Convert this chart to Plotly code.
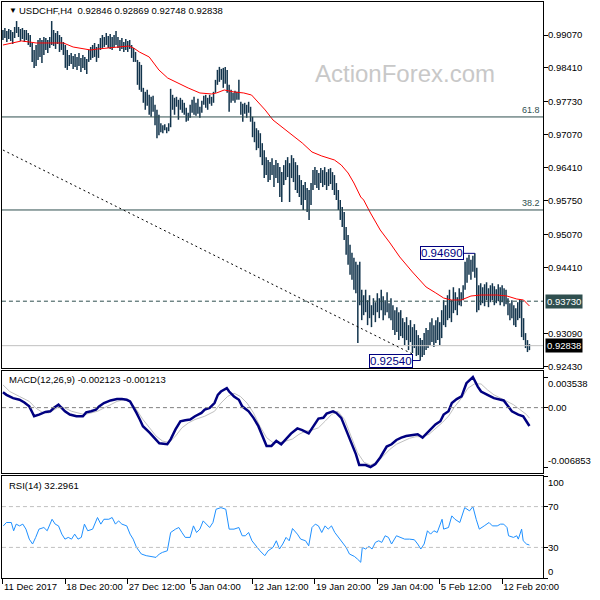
import plotly.graph_objects as go

# ---------------- data ----------------
symbol_title = "USDCHF,H4  0.92846 0.92869 0.92748 0.92838"

highs = [0.9917,0.9921,0.9915,0.9919,0.9917,0.9913,0.9923,0.9935,0.9923,0.9919,
         0.9921,0.9917,0.9917,0.9911,0.9907,0.9891,0.9877,0.9887,0.9897,0.9901,
         0.9897,0.9903,0.9901,0.9897,0.9903,0.9935,0.9917,0.9911,0.9915,0.9907,
         0.9903,0.9893,0.9887,0.9877,0.9867,0.9871,0.9865,0.9869,0.9863,0.9871,
         0.9861,0.9867,0.9863,0.9859,0.9877,0.9883,0.9887,0.9891,0.9883,0.9889,
         0.9901,0.9907,0.9903,0.9911,0.9905,0.9909,0.9903,0.9907,0.9915,0.9903,
         0.9897,0.9901,0.9893,0.9899,0.9895,0.9897,0.9887,0.9881,0.9873,0.9857,
         0.9853,0.9847,0.9801,0.9793,0.9797,0.9787,0.9783,0.9785,0.9767,0.9757,
         0.9747,0.9730,0.9726,0.9728,0.9722,0.9730,0.9799,0.9787,0.9781,0.9783,
         0.9777,0.9781,0.9777,0.9771,0.9761,0.9751,0.9767,0.9777,0.9783,0.9771,
         0.9779,0.9763,0.9775,0.9785,0.9787,0.9781,0.9787,0.9783,0.9793,0.9817,
         0.9837,0.9843,0.9839,0.9841,0.9843,0.9837,0.9807,0.9797,0.9791,0.9795,
         0.9793,0.9817,0.9773,0.9769,0.9771,0.9767,0.9773,0.9763,0.9743,0.9733,
         0.9720,0.9716,0.9710,0.9690,0.9676,0.9662,0.9656,0.9652,0.9660,0.9646,
         0.9656,0.9650,0.9642,0.9632,0.9646,0.9656,0.9662,0.9650,0.9666,0.9660,
         0.9652,0.9646,0.9626,0.9616,0.9606,0.9612,0.9600,0.9596,0.9610,0.9636,
         0.9642,0.9636,0.9630,0.9640,0.9636,0.9642,0.9632,0.9638,0.9640,0.9632,
         0.9626,0.9610,0.9596,0.9576,0.9562,0.9552,0.9522,0.9506,0.9486,0.9470,
         0.9460,0.9452,0.9446,0.9452,0.9396,0.9385,0.9396,0.9375,0.9385,0.9365,
         0.9379,0.9371,0.9389,0.9379,0.9396,0.9383,0.9375,0.9391,0.9369,0.9379,
         0.9365,0.9355,0.9361,0.9351,0.9355,0.9339,0.9331,0.9341,0.9325,0.9335,
         0.9321,0.9327,0.9315,0.9305,0.9299,0.9295,0.9309,0.9319,0.9315,0.9331,
         0.9339,0.9325,0.9335,0.9341,0.9331,0.9355,0.9375,0.9365,0.9385,0.9396,
         0.9375,0.9401,0.9391,0.9381,0.9399,0.9391,0.9405,0.9452,0.9460,0.9466,
         0.9456,0.9464,0.9469,0.9440,0.9405,0.9409,0.9401,0.9407,0.9411,0.9399,
         0.9405,0.9409,0.9403,0.9397,0.9407,0.9401,0.9405,0.9399,0.9396,0.9379,
         0.9369,0.9375,0.9365,0.9359,0.9371,0.9377,0.9375,0.9339,0.9309,0.9295,
         0.92869]

lows = [0.9897,0.9901,0.9893,0.9899,0.9895,0.9889,0.9901,0.9911,0.9903,0.9895,
        0.9899,0.9893,0.9897,0.9887,0.9883,0.9853,0.9841,0.9845,0.9857,0.9863,
        0.9851,0.9867,0.9877,0.9871,0.9881,0.9887,0.9885,0.9879,0.9889,0.9873,
        0.9877,0.9867,0.9841,0.9837,0.9845,0.9849,0.9839,0.9843,0.9837,0.9845,
        0.9833,0.9841,0.9837,0.9829,0.9853,0.9857,0.9861,0.9863,0.9853,0.9861,
        0.9877,0.9881,0.9883,0.9887,0.9881,0.9879,0.9877,0.9883,0.9887,0.9881,
        0.9875,0.9879,0.9873,0.9877,0.9873,0.9879,0.9861,0.9853,0.9853,0.9807,
        0.9797,0.9793,0.9771,0.9757,0.9765,0.9747,0.9743,0.9753,0.9726,0.9700,
        0.9706,0.9712,0.9710,0.9716,0.9710,0.9714,0.9722,0.9757,0.9747,0.9763,
        0.9737,0.9757,0.9751,0.9747,0.9733,0.9735,0.9741,0.9751,0.9747,0.9745,
        0.9749,0.9741,0.9751,0.9767,0.9761,0.9757,0.9769,0.9765,0.9771,0.9791,
        0.9807,0.9813,0.9817,0.9801,0.9809,0.9791,0.9753,0.9771,0.9775,0.9771,
        0.9777,0.9777,0.9747,0.9733,0.9749,0.9741,0.9751,0.9733,0.9702,0.9692,
        0.9676,0.9680,0.9662,0.9646,0.9620,0.9626,0.9612,0.9616,0.9626,0.9602,
        0.9620,0.9610,0.9582,0.9572,0.9606,0.9616,0.9622,0.9572,0.9620,0.9612,
        0.9596,0.9590,0.9582,0.9566,0.9556,0.9576,0.9552,0.9536,0.9566,0.9596,
        0.9606,0.9600,0.9596,0.9610,0.9602,0.9606,0.9596,0.9604,0.9608,0.9596,
        0.9586,0.9576,0.9556,0.9536,0.9522,0.9496,0.9466,0.9446,0.9426,0.9416,
        0.9396,0.9389,0.9289,0.9365,0.9335,0.9345,0.9351,0.9325,0.9339,0.9321,
        0.9345,0.9331,0.9351,0.9339,0.9355,0.9335,0.9345,0.9351,0.9339,0.9335,
        0.9315,0.9305,0.9311,0.9295,0.9303,0.9299,0.9285,0.9295,0.9275,0.9291,
        0.9269,0.9279,0.9263,0.9265,0.9254,0.9261,0.9265,0.9275,0.9279,0.9285,
        0.9291,0.9281,0.9289,0.9295,0.9285,0.9299,0.9325,0.9321,0.9335,0.9339,
        0.9331,0.9349,0.9355,0.9345,0.9365,0.9363,0.9375,0.9396,0.9410,0.9426,
        0.9416,0.9432,0.9420,0.9351,0.9355,0.9365,0.9369,0.9363,0.9375,0.9361,
        0.9371,0.9375,0.9365,0.9369,0.9373,0.9365,0.9371,0.9363,0.9367,0.9345,
        0.9335,0.9339,0.9325,0.9321,0.9335,0.9339,0.9301,0.9295,0.9279,0.9271,
        0.92748]

# moving average (red), read as (bar index, price)
ma_points = [(0,0.98869),(5,0.98910),(9.5,0.98950),(13.5,0.98930),(17,0.98910),(23.5,0.98910),
             (31,0.98910),(36,0.98829),(42,0.98789),(45,0.98769),(48.5,0.98789),(53.5,0.98809),
             (58.5,0.98829),(64.5,0.98849),(67,0.98809),(70,0.98729),(75,0.98629),(80,0.98368),
             (84.5,0.98207),(88.5,0.98127),(95,0.98007),(101,0.97907),(107,0.97887),(109.5,0.97907),
             (113.5,0.97967),(118.5,0.97927),(123.5,0.97907),(127.5,0.97866),(131,0.97726),
             (134.5,0.97566),(138.5,0.97365),(143.5,0.97205),(148.5,0.97064),(153.5,0.96904),
             (158.5,0.96723),(163.5,0.96643),(170,0.96563),(173.5,0.96462),(177,0.96302),
             (180,0.96101),(183.5,0.95820),(185,0.95760),(188.5,0.95499),(193.5,0.95158),
             (198.5,0.94898),(203.5,0.94617),(210,0.94316),(217,0.94015),(222,0.93895),
             (226,0.93794),(230,0.93754),(235,0.93754),(240,0.93834),(245,0.93854),
             (253.5,0.93854),(258.5,0.93834),(263.5,0.93774),(267,0.93754),(270,0.93634)]

macd_main = [(0,0.00179),(1.8,0.00148),(5.2,0.00110),(8.5,0.00091),(11,0.00060),(13.5,0.00015),
             (15.2,-0.00061),(16,-0.00099),(18.5,-0.00080),(21.8,-0.00049),(24.3,-0.00042),
             (26,-0.00004),(28.5,0.00034),(30.2,-0.00004),(31.8,-0.00042),(34.3,-0.00080),
             (37.7,-0.00099),(41,-0.00099),(42.7,-0.00054),(45.2,-0.00042),(47.7,-0.00023),
             (49.3,0.00015),(51.8,0.00053),(55.2,0.00083),(58.5,0.00099),(61,0.00099),
             (63.5,0.00091),(65.2,0.00072),(66.8,0.00015),(68.5,-0.00061),(70.2,-0.00137),
             (71.8,-0.00214),(75.2,-0.00289),(77.7,-0.00346),(80.2,-0.00411),(84.3,-0.00423),
             (86,-0.00366),(88.5,-0.00251),(91,-0.00157),(93.5,-0.00145),(96,-0.00137),
             (98.5,-0.00099),(100.2,-0.00080),(101.8,-0.00061),(103.5,-0.00023),(106,-0.00004),
             (108.5,0.00053),(110.2,0.00148),(111.8,0.00186),(114.8,0.00225),(116,0.00186),
             (118.5,0.00129),(121,0.00091),(122.7,0.00015),(126,-0.00042),(128.5,-0.00118),
             (131,-0.00214),(133.5,-0.00346),(135.2,-0.00442),(137.7,-0.00442),(140.2,-0.00385),
             (142.7,-0.00423),(145.2,-0.00366),(147.7,-0.00300),(151,-0.00240),(153.5,-0.00259),
             (156.8,-0.00297),(159.3,-0.00214),(161.8,-0.00126),(164.3,-0.00118),(166,-0.00069),
             (169.3,-0.00042),(171,-0.00061),(173.5,-0.00118),(176,-0.00251),(178.5,-0.00403),
             (181,-0.00537),(182.7,-0.00662),(186,-0.00662),(188.5,-0.006853),(191,-0.00651),
             (193.5,-0.00575),(196.8,-0.00449),(199.3,-0.00423),(201.8,-0.00373),(204.3,-0.00346),
             (206.8,-0.00328),(210.2,-0.00316),(212.7,-0.00308),(215.2,-0.00346),(216.8,-0.00308),
             (219.3,-0.00251),(221.8,-0.00194),(224.3,-0.00157),(226,-0.00080),(228.5,-0.00042),
             (230.2,0.00053),(232.7,0.00099),(235.2,0.00129),(237.7,0.00282),(241,0.003538),
             (243.5,0.00243),(245.2,0.00186),(248.5,0.00148),(251.8,0.00110),(256.8,0.00083),
             (259.3,0.00015),(261,-0.00042),(264.3,-0.00080),(266.8,-0.00099),(270,-0.002123)]

macd_signal = [(0,0.00263),(3.5,0.00186),(8.5,0.00129),(13.5,0.00072),(16.8,-0.00004),(20.2,-0.00054),
               (23.5,-0.00061),(26.8,-0.00023),(29.3,0.00015),(31.8,-0.00004),(35.2,-0.00042),
               (38.5,-0.00061),(41.8,-0.00080),(45.2,-0.00061),(48.5,-0.00042),(53.5,0.00015),
               (58.5,0.00072),(61.8,0.00091),(65.2,0.00072),(68.5,-0.00023),(71.8,-0.00137),
               (75.2,-0.00233),(78.5,-0.00328),(81.8,-0.00385),(85.2,-0.00403),(88.5,-0.00328),
               (91.8,-0.00233),(95.2,-0.00175),(98.5,-0.00137),(103.5,-0.00099),(108.5,-0.00042),
               (111.8,0.00053),(115.2,0.00129),(118.5,0.00167),(121.8,0.00129),(125.2,0.00053),
               (128.5,-0.00061),(131.8,-0.00214),(135.2,-0.00346),(138.5,-0.00403),(141.8,-0.00403),
               (145.2,-0.00385),(148.5,-0.00362),(151.8,-0.00308),(155.2,-0.00271),(158.5,-0.00259),
               (161.8,-0.00233),(165.2,-0.00157),(168.5,-0.00080),(171.8,-0.00042),(175.2,-0.00137),
               (178.5,-0.00328),(181.8,-0.00518),(185.2,-0.00632),(188.5,-0.00662),(191.8,-0.00632),
               (195.2,-0.00556),(198.5,-0.00480),(201.8,-0.00423),(205.2,-0.00385),(208.5,-0.00354),
               (211.8,-0.00335),(215.2,-0.00335),(218.5,-0.00308),(221.8,-0.00244),(225.2,-0.00175),
               (228.5,-0.00099),(231.8,0.00015),(235.2,0.00110),(238.5,0.00225),(241.8,0.00274),
               (245.2,0.00274),(248.5,0.00205),(251.8,0.00148),(255.2,0.00110),(258.5,0.00072),
               (261.8,0.00034),(265.2,-0.00023),(268.5,-0.00080),(270,-0.001213)]

rsi_points = [(0.2,51.1),(1.8,54.4),(4.3,54.4),(5.5,46.3),(6.8,52.8),(8.5,51.1),(10.2,52.8),
              (11.8,47.9),(13.5,38.1),(15.2,33.3),(16.8,39.8),(18.5,47.9),(21,49.5),(22.7,46.3),
              (25.2,57.6),(26.8,52.8),(28.5,51.1),(30.2,43.0),(31.8,38.1),(33.5,39.8),(35.2,38.1),
              (36.8,43.0),(38.5,38.1),(40.2,39.8),(41.8,52.8),(43.5,46.3),(46,47.9),(48.5,59.3),
              (50.2,52.8),(51.8,57.6),(54.3,57.6),(56,59.3),(57.7,52.8),(59.3,56.0),(61,52.8),
              (63.5,51.1),(65.2,43.0),(66.8,38.1),(68.5,30.0),(71,23.5),(73.5,21.9),(76,21.2),
              (78.5,20.2),(80.2,23.5),(81.8,25.1),(84.3,26.7),(86,44.6),(88.5,47.9),(90.2,49.5),
              (91.8,44.6),(93.5,39.8),(96,39.8),(97.7,51.1),(99.3,44.6),(101,47.9),(102.7,56.0),
              (104.3,52.8),(106,49.5),(107.7,54.4),(109.3,67.4),(111.8,69.0),(114.3,67.4),
              (116,47.9),(118.5,47.9),(121,49.5),(122.7,41.4),(124.3,41.4),(126,44.6),(127.7,36.5),
              (130.2,30.0),(131.8,26.7),(134.3,21.9),(136,26.7),(138.5,30.0),(140.2,36.5),
              (141.8,28.4),(143.5,33.3),(145.2,39.8),(146.8,36.5),(148.5,48.5),(151,43.0),
              (152.7,38.1),(155.2,36.5),(156.8,31.6),(158.5,49.5),(160.2,52.8),(161.8,51.1),
              (163.5,44.6),(165.2,51.1),(166.8,47.9),(168.5,51.1),(170.2,44.6),(173.5,36.5),
              (176,30.0),(177.7,23.5),(180.2,21.2),(181.8,18.6),(183.5,15.4),(184.3,30.0),
              (186,28.4),(187.7,31.0),(189.3,28.4),(191,34.9),(192.7,36.5),(194.3,34.9),(196,41.4),
              (197.7,39.8),(199.3,33.3),(201.8,41.4),(204.3,39.8),(206,38.1),(208.5,38.1),
              (211,37.5),(212.7,33.3),(214.3,28.4),(216,33.3),(217.7,46.3),(219.3,43.0),(221,46.3),
              (222.7,44.6),(225.2,57.6),(226,47.9),(228.5,49.5),(230.2,60.9),(231.8,57.6),
              (234.3,54.4),(236.8,69.0),(239.3,65.8),(241,70.0),(242.7,57.6),(244.3,47.9),
              (246.8,51.1),(249.3,54.4),(251,51.1),(253.5,51.1),(255.2,52.8),(256.8,52.8),
              (258.5,49.5),(259.3,41.4),(261.8,39.8),(263.5,41.4),(264.3,38.1),(266,47.9),
              (266.8,36.5),(268.5,33.3),(270,32.2961)]

tick_index = [0, 32, 64, 96, 128, 160, 192, 224, 256]
tick_labels = ["11 Dec 2017", "18 Dec 20:00", "27 Dec 12:00", "5 Jan 04:00", "12 Jan 12:00",
               "19 Jan 20:00", "29 Jan 04:00", "5 Feb 12:00", "12 Feb 20:00"]
price_ticks = [0.99070, 0.98410, 0.97730, 0.97070, 0.96410, 0.95750, 0.95070, 0.94410, 0.93090, 0.92430]
macd_ticks = [0.003538, 0.0, -0.006853]
macd_tick_text = ["0.003538", "0.00", "-0.006853"]
rsi_ticks = [100, 70, 30, 0]
rsi_tick_text = ["100", "70", "30", "0"]
rsi_levels = [70, 30]
fib_levels = [("61.8", 0.97426), ("38.2", 0.95560)]
resistance_level = 0.93730
last_price = 0.92838
swing_high = (242, 0.94690)
swing_low = (214, 0.92540)
trend_line = ([0, 211], [0.96763, 0.92651])
macd_header = "MACD(12,26,9) -0.002123 -0.001213"
rsi_header = "RSI(14) 32.2961"

# ---------------- style ----------------
FONT = "Liberation Sans"
FS = 9.5
BAR = "#12344c"
SLATE = "#2f4f4f"
NAVY = "#000080"
XR = [-0.5, 277.0]
XD = [2/600, 557/600]
YD1 = [1-368/600, 1-2/600]
YD2 = [1-473/600, 1-371/600]
YD3 = [1-578/600, 1-476/600]
LBL_X = 561/600

# high-low bars as vertical segments
seg_x, seg_y = [], []
for i, (h, l) in enumerate(zip(highs, lows)):
    seg_x += [i, i, None]
    seg_y += [l, h, None]

fig = go.Figure()
fig.add_trace(go.Scatter(x=seg_x, y=seg_y, mode="lines", line=dict(color=BAR, width=1.5),
                         xaxis="x", yaxis="y", hoverinfo="skip"))
fig.add_trace(go.Scatter(x=[p[0] for p in ma_points], y=[p[1] for p in ma_points], mode="lines",
                         line=dict(color="#ff0000", width=1), xaxis="x", yaxis="y"))
fig.add_trace(go.Scatter(x=[p[0] for p in macd_signal], y=[p[1] for p in macd_signal], mode="lines",
                         line=dict(color="#c0c0c0", width=1), xaxis="x2", yaxis="y2"))
fig.add_trace(go.Scatter(x=[p[0] for p in macd_main], y=[p[1] for p in macd_main], mode="lines",
                         line=dict(color=NAVY, width=2.5), xaxis="x2", yaxis="y2"))
fig.add_trace(go.Scatter(x=[p[0] for p in rsi_points], y=[p[1] for p in rsi_points], mode="lines",
                         line=dict(color="#1e90ff", width=1), xaxis="x3", yaxis="y3"))

frame = dict(showline=True, mirror=True, linecolor="black", linewidth=1,
             showgrid=False, zeroline=False)
xa = dict(domain=XD, range=XR, showticklabels=False, ticks="", **frame)

shapes = []
for _, lvl in fib_levels:
    shapes.append(dict(type="line", xref="x", yref="y", x0=XR[0], x1=XR[1], y0=lvl, y1=lvl,
                       line=dict(color=SLATE, width=1)))
shapes.append(dict(type="line", xref="x", yref="y", x0=XR[0], x1=XR[1], y0=resistance_level,
                   y1=resistance_level, line=dict(color=SLATE, width=1, dash="4px,3px")))
shapes.append(dict(type="line", xref="x", yref="y", x0=XR[0], x1=XR[1], y0=last_price,
                   y1=last_price, line=dict(color="#c0c0c0", width=1)))
shapes.append(dict(type="line", xref="x", yref="y", x0=trend_line[0][0], x1=trend_line[0][1],
                   y0=trend_line[1][0], y1=trend_line[1][1],
                   line=dict(color="black", width=1, dash="2px,3px")))
shapes.append(dict(type="line", xref="x", yref="y", x0=swing_high[0] - 5.75, x1=swing_high[0],
                   y0=swing_high[1], y1=swing_high[1], line=dict(color=NAVY, width=1)))
shapes.append(dict(type="line", xref="x", yref="y", x0=swing_low[0] - 3.75, x1=swing_low[0],
                   y0=swing_low[1], y1=swing_low[1], line=dict(color=NAVY, width=1)))
shapes.append(dict(type="line", xref="x2", yref="y2", x0=XR[0], x1=XR[1], y0=0, y1=0,
                   line=dict(color="#808080", width=1, dash="4px,3px")))
for lv in rsi_levels:
    shapes.append(dict(type="line", xref="x3", yref="y3", x0=XR[0], x1=XR[1], y0=lv, y1=lv,
                       line=dict(color="#c0c0c0", width=1, dash="4px,3px")))

ann = []
def txt(x, y, s, size=FS, color="black", xanchor="left", yanchor="middle", xref="paper",
        yref="paper", **kw):
    ann.append(dict(x=x, y=y, text=s, showarrow=False, xref=xref, yref=yref, xanchor=xanchor,
                    yanchor=yanchor, font=dict(family=FONT, size=size, color=color), **kw))

txt(7/600, 1-10/600, "▼", size=8)
txt(17/600, 1-10/600, symbol_title)
txt(415/600, 1-73/600, "ActionForex.com", size=24, color="#c8c8c8", xanchor="center")
for name, lvl in fib_levels:
    txt(556/600, lvl, name, color=SLATE, xanchor="right", yanchor="bottom", yref="y", size=9)
txt(swing_high[0] - 5.75, swing_high[1], f"{swing_high[1]:.5f}", size=11.5, color=NAVY,
    xanchor="right", xref="x", yref="y", bgcolor="white", bordercolor=NAVY, borderwidth=1,
    borderpad=0)
txt(swing_low[0] - 3.75, swing_low[1], f"{swing_low[1]:.5f}", size=11.5, color=NAVY,
    xanchor="right", xref="x", yref="y", bgcolor="white", bordercolor=NAVY, borderwidth=1,
    borderpad=0)

# right-hand axis labels (left-aligned next to the ticks, as in the terminal)
for v in price_ticks:
    txt(LBL_X, v, f"{v:.5f}", yref="y", borderpad=0)
for v, t in zip(macd_ticks, macd_tick_text):
    txt(LBL_X, v, t, yref="y2", borderpad=0,
        yanchor="top" if v == macd_ticks[0] else ("bottom" if v == macd_ticks[-1] else "middle"))
for v, t in zip(rsi_ticks, rsi_tick_text):
    txt(LBL_X, v, t, yref="y3", borderpad=0,
        yanchor="top" if v == 100 else ("bottom" if v == 0 else "middle"))
txt(559/600, resistance_level, f"{resistance_level:.5f}", color="white", yref="y",
    bgcolor=SLATE, borderpad=1)
txt(559/600, last_price, f"{last_price:.5f}", color="white", yref="y", bgcolor="black",
    borderpad=1)
txt(7/600, 1-379/600, macd_header)
txt(7/600, 1-485/600, rsi_header)

yax = dict(side="right", showticklabels=False, ticks="outside", ticklen=4, tickcolor="black",
           **frame)
fig.update_layout(
    width=600, height=600, margin=dict(l=0, r=0, t=0, b=0),
    paper_bgcolor="white", plot_bgcolor="white", showlegend=False,
    font=dict(family=FONT, size=FS, color="black"),
    xaxis=dict(anchor="y", **xa),
    xaxis2=dict(anchor="y2", matches="x", **xa),
    xaxis3=dict(anchor="y3", matches="x", domain=XD, range=XR, tickvals=tick_index,
                ticktext=tick_labels, ticks="outside", ticklen=5, tickcolor="black",
                ticklabelposition="outside right", tickangle=0,
                tickfont=dict(family=FONT, size=FS), **frame),
    yaxis=dict(anchor="x", domain=YD1, range=[0.92390, 0.99732], tickvals=price_ticks, **yax),
    yaxis2=dict(anchor="x2", domain=YD2, range=[-0.007546, 0.004231], tickvals=macd_ticks, **yax),
    yaxis3=dict(anchor="x3", domain=YD3, range=[0, 100], tickvals=rsi_ticks, **yax),
    shapes=shapes, annotations=ann,
)
fig.write_html("out.html", config={"displayModeBar": False},
               post_script="document.body.style.margin='0';document.body.style.overflow='hidden';")
